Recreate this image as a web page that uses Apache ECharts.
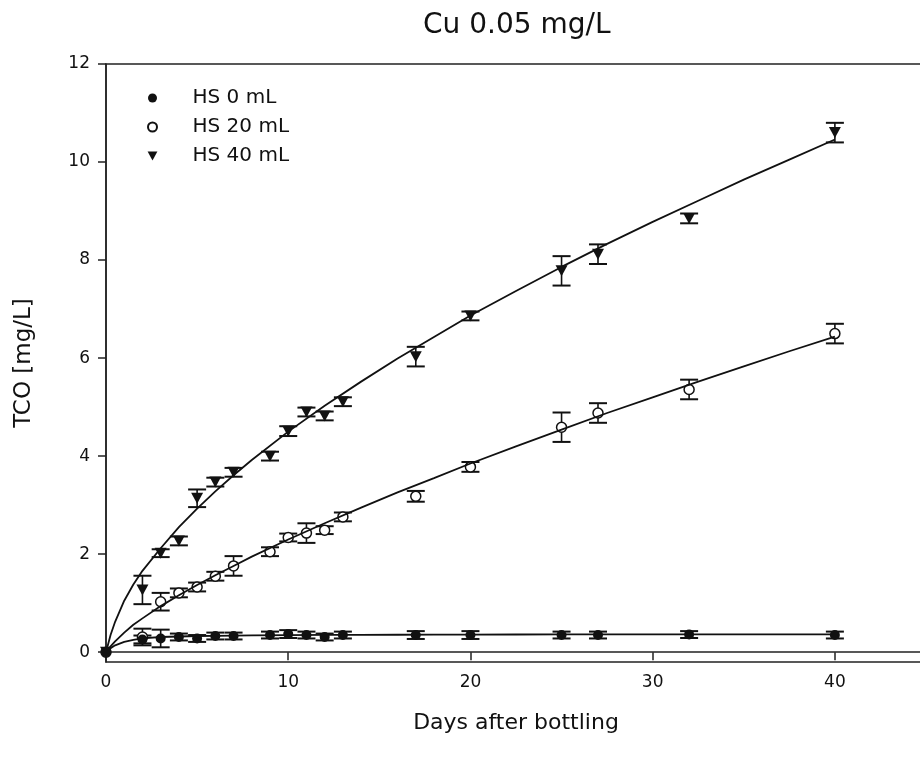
<!DOCTYPE html>
<html>
<head>
<meta charset="utf-8">
<script src="https://cdn.jsdelivr.net/npm/echarts@6/dist/echarts.min.js"></script>
<style>
  html, body { margin: 0; padding: 0; background: #fff; }
  #chart { width: 920px; height: 762px; }
</style>
</head>
<body>
<div id="chart"></div>
<script>
// Sampling days
var days = [0, 2, 3, 4, 5, 6, 7, 9, 10, 11, 12, 13, 17, 20, 25, 27, 32, 40];

// Measured TCO (mg/L) and standard deviations per headspace volume
var hs0    = [0, 0.26, 0.28, 0.31, 0.28, 0.33, 0.33, 0.35, 0.37, 0.35, 0.31, 0.35, 0.35, 0.35, 0.35, 0.35, 0.36, 0.35];
var hs0Err = [0, 0.08, 0.18, 0.07, 0.07, 0.07, 0.07, 0.07, 0.08, 0.07, 0.07, 0.07, 0.08, 0.08, 0.07, 0.07, 0.07, 0.07];

var hs20    = [0, 0.31, 1.03, 1.21, 1.33, 1.55, 1.76, 2.05, 2.34, 2.43, 2.49, 2.76, 3.18, 3.78, 4.59, 4.88, 5.36, 6.50];
var hs20Err = [0, 0.17, 0.18, 0.09, 0.09, 0.09, 0.20, 0.09, 0.08, 0.20, 0.08, 0.09, 0.11, 0.10, 0.30, 0.20, 0.20, 0.20];

var hs40    = [0, 1.27, 2.02, 2.27, 3.14, 3.47, 3.67, 4.00, 4.51, 4.90, 4.82, 5.11, 6.03, 6.86, 7.78, 8.12, 8.85, 10.60];
var hs40Err = [0, 0.29, 0.08, 0.09, 0.18, 0.09, 0.09, 0.09, 0.10, 0.09, 0.09, 0.09, 0.20, 0.09, 0.30, 0.20, 0.10, 0.20];

// Fitted regression curves, sampled densely enough to be drawn as polylines
var fitDays = [0, 0.25, 0.5, 1, 1.5, 2, 3, 4, 5, 6, 7, 8, 10, 12, 14, 16, 18, 20, 22.5, 25, 27.5, 30, 32.5, 35, 37.5, 40];
var fit0  = [0, 0.08, 0.14, 0.21, 0.25, 0.28, 0.31, 0.32, 0.33, 0.335, 0.34, 0.345, 0.35, 0.352, 0.354, 0.356, 0.358, 0.36, 0.361, 0.362, 0.363, 0.364, 0.365, 0.365, 0.365, 0.365];
var fit20 = [0, 0.12, 0.22, 0.40, 0.56, 0.69, 0.94, 1.16, 1.37, 1.57, 1.76, 1.95, 2.30, 2.63, 2.95, 3.26, 3.55, 3.85, 4.20, 4.54, 4.88, 5.20, 5.52, 5.83, 6.14, 6.44];
var fit40 = [0, 0.35, 0.62, 1.05, 1.38, 1.66, 2.12, 2.55, 2.93, 3.28, 3.61, 3.92, 4.50, 5.03, 5.52, 5.99, 6.43, 6.87, 7.37, 7.86, 8.33, 8.78, 9.21, 9.64, 10.05, 10.46];

// Axis ticks
var xTicks = [0, 10, 20, 30, 40];
var yTicks = [0, 2, 4, 6, 8, 10, 12];

var seriesNames = ['HS 0 mL', 'HS 20 mL', 'HS 40 mL'];

var FONT = 'DejaVu Sans';
var INK = '#111';
// Downward-pointing triangle marker
var TRI_DOWN = 'path://M0,0 L12,0 L6,11 Z';

function pairs(xs, ys) {
  return xs.map(function (x, i) { return [x, ys[i]]; });
}
function triples(xs, ys, es) {
  return xs.map(function (x, i) { return [x, ys[i], es[i]]; });
}

function renderErrorBar(params, api) {
  var x = api.value(0), y = api.value(1), e = api.value(2);
  if (!e) return null;
  var top = api.coord([x, y + e]);
  var bot = api.coord([x, y - e]);
  var half = 9;
  return {
    type: 'group',
    children: [
      { type: 'line', shape: { x1: top[0], y1: top[1], x2: bot[0], y2: bot[1] }, style: { stroke: INK, lineWidth: 1.6 } },
      { type: 'line', shape: { x1: top[0] - half, y1: top[1], x2: top[0] + half, y2: top[1] }, style: { stroke: INK, lineWidth: 2 } },
      { type: 'line', shape: { x1: bot[0] - half, y1: bot[1], x2: bot[0] + half, y2: bot[1] }, style: { stroke: INK, lineWidth: 2 } }
    ]
  };
}

function errorSeries(ys, es) {
  return {
    type: 'custom',
    renderItem: renderErrorBar,
    data: triples(days, ys, es),
    encode: { x: 0, y: 1 },
    clip: false,
    silent: true,
    z: 2
  };
}

function fitSeries(name, ys) {
  return {
    name: name,
    type: 'line',
    data: pairs(fitDays, ys),
    smooth: false,
    showSymbol: false,
    symbol: 'none',
    lineStyle: { color: INK, width: 1.8 },
    silent: true,
    z: 4
  };
}

var chart = echarts.init(document.getElementById('chart'), null, { renderer: 'canvas' });

chart.setOption({
  animation: false,
  backgroundColor: '#fff',
  title: {
    text: 'Cu 0.05 mg/L',
    left: 423,
    top: 12,
    padding: 0,
    textStyle: { fontFamily: FONT, fontSize: 28, fontWeight: 'normal', color: INK }
  },
  legend: {
    orient: 'vertical',
    left: 147,
    top: 88,
    padding: 0,
    itemWidth: 70,
    itemHeight: 9,
    itemGap: 9,
    symbolKeepAspect: true,
    data: seriesNames,
    textStyle: { fontFamily: FONT, fontSize: 20, color: INK, lineHeight: 20 }
  },
  grid: {
    left: 106,
    top: 64,
    right: -6,
    bottom: 100,
    containLabel: false,
    outerBoundsMode: 'none',
    show: true,
    borderColor: '#222',
    borderWidth: 1.5
  },
  xAxis: {
    type: 'value',
    min: 0,
    max: 45,
    name: 'Days after bottling',
    nameLocation: 'middle',
    nameGap: 50,
    nameTextStyle: { fontFamily: FONT, fontSize: 22, color: INK },
    axisLine: { show: true, lineStyle: { color: '#222', width: 1.5 } },
    axisTick: { show: true, inside: false, length: 8, customValues: xTicks, lineStyle: { color: '#222', width: 1.5 } },
    axisLabel: { customValues: xTicks, margin: 12, fontFamily: FONT, fontSize: 17, color: INK },
    splitLine: { show: false }
  },
  yAxis: {
    type: 'value',
    min: -0.2,
    max: 12,
    name: 'TCO [mg/L]',
    nameLocation: 'middle',
    nameGap: 70,
    nameRotate: 90,
    nameTextStyle: { fontFamily: FONT, fontSize: 23, color: INK },
    axisLine: { show: true, lineStyle: { color: '#222', width: 1.5 } },
    axisTick: { show: true, inside: false, length: 8, customValues: yTicks, lineStyle: { color: '#222', width: 1.5 } },
    axisLabel: { customValues: yTicks, margin: 16, fontFamily: FONT, fontSize: 17, color: INK },
    splitLine: { show: false }
  },
  series: [
    errorSeries(hs0, hs0Err),
    errorSeries(hs20, hs20Err),
    errorSeries(hs40, hs40Err),
    {
      name: seriesNames[1],
      type: 'scatter',
      data: pairs(days, hs20),
      symbol: 'circle',
      symbolSize: 10,
      itemStyle: { color: '#fff', borderColor: INK, borderWidth: 1.5, opacity: 1 },
      clip: false,
      z: 3
    },
    {
      name: seriesNames[2],
      type: 'scatter',
      data: pairs(days, hs40),
      symbol: TRI_DOWN,
      symbolSize: [12, 11],
      itemStyle: { color: INK, opacity: 1 },
      clip: false,
      z: 3
    },
    {
      name: seriesNames[0],
      type: 'scatter',
      data: pairs(days, hs0),
      symbol: 'circle',
      symbolSize: 10,
      itemStyle: { color: INK, opacity: 1 },
      clip: false,
      z: 5
    },
    fitSeries('fit-0', fit0),
    fitSeries('fit-20', fit20),
    fitSeries('fit-40', fit40)
  ]
});
</script>
</body>
</html>
